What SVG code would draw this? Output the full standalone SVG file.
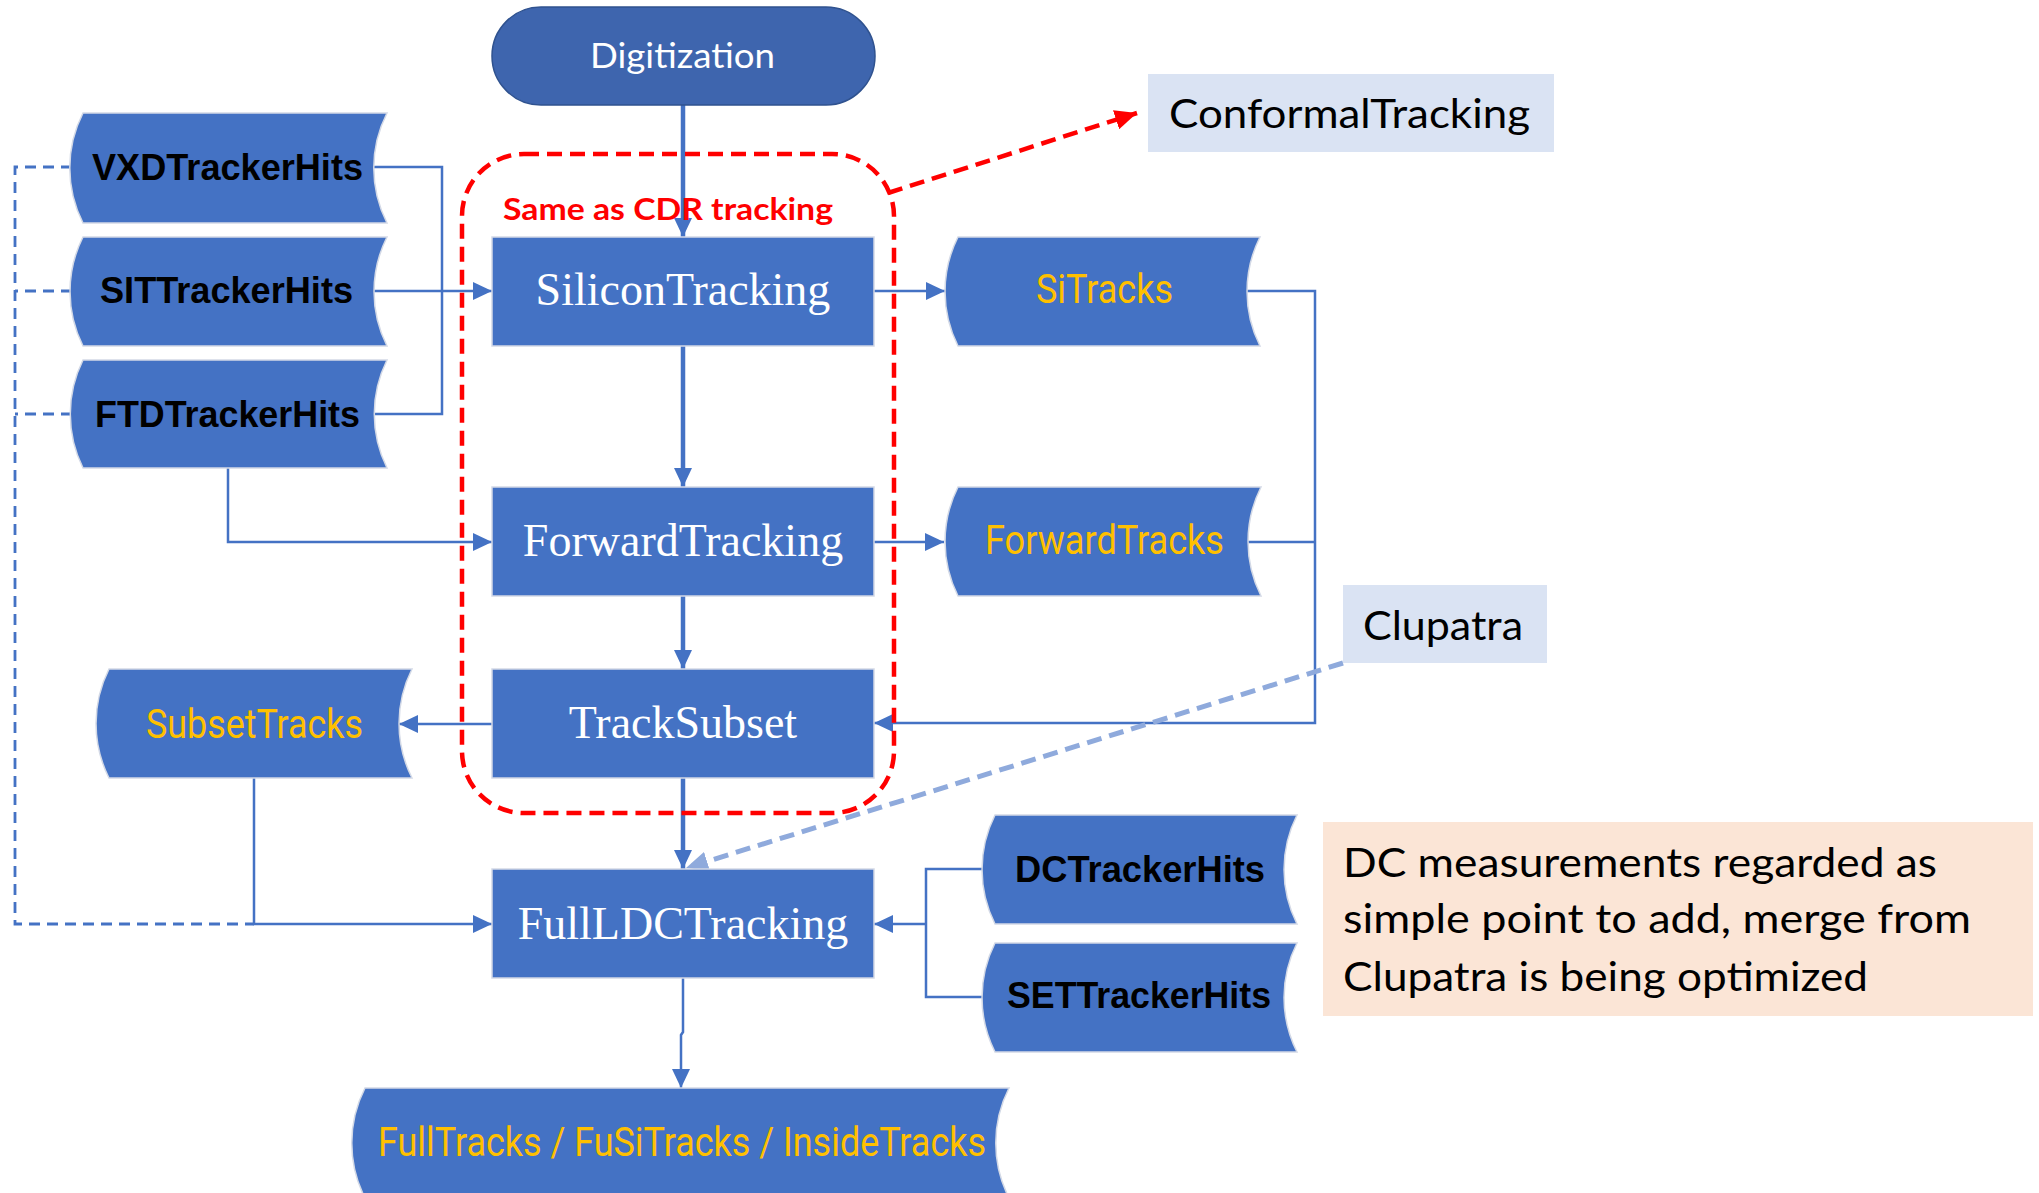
<svg xmlns="http://www.w3.org/2000/svg" width="2039" height="1193" viewBox="0 0 2039 1193">
<defs>
<style>
.node{fill:#4472C4;stroke:#D3D9E6;stroke-width:1.5}
.pill{fill:#3E65AE;stroke:#2F528F;stroke-width:1.5}
.lbl{fill:#DAE3F3}
.note{fill:#FBE5D6}
.ser{font-family:"Liberation Serif","Times New Roman",serif;font-size:46px;fill:#FFFFFF;text-anchor:middle}
.hits{font-family:"Liberation Sans",Arial,sans-serif;font-weight:bold;font-size:36px;fill:#000000}
.trk{font-family:Roboto,"Liberation Sans",sans-serif;font-size:40.5px;fill:#FFC000}
.cal{font-family:Lato,"Liberation Sans",sans-serif;fill:#000000}
.thin{fill:none;stroke:#4472C4;stroke-width:2.5}
.thick{fill:none;stroke:#4472C4;stroke-width:4.5}
.dash{fill:none;stroke:#4472C4;stroke-width:2.8;stroke-dasharray:11 7}
.reddash{fill:none;stroke:#FF0000;stroke-width:4.5;stroke-dasharray:15 8}
.ltdash{fill:none;stroke:#8FAADC;stroke-width:5;stroke-dasharray:15 8}
</style>
<marker id="ab" markerUnits="userSpaceOnUse" markerWidth="19" markerHeight="18" refX="19" refY="9" orient="auto"><path d="M0,0 L19,9 L0,18 Z" fill="#4472C4"/></marker>
<marker id="ar" markerUnits="userSpaceOnUse" markerWidth="22" markerHeight="20" refX="22" refY="10" orient="auto"><path d="M0,0 L22,10 L0,20 Z" fill="#FF0000"/></marker>
<marker id="al" markerUnits="userSpaceOnUse" markerWidth="22" markerHeight="20" refX="22" refY="10" orient="auto"><path d="M0,0 L22,10 L0,20 Z" fill="#8FAADC"/></marker>
</defs>
<rect x="0" y="0" width="2039" height="1193" fill="#FFFFFF"/>

<g id="connectors">
<path class="thin" d="M374,167 H442 V414 H374"/>
<path class="thin" d="M374,291 H492" marker-end="url(#ab)"/>
<path class="thin" d="M228,468 V542 H492" marker-end="url(#ab)"/>
<path class="thin" d="M874,291 H945" marker-end="url(#ab)"/>
<path class="thin" d="M874,542 H944" marker-end="url(#ab)"/>
<path class="thin" d="M1247,291 H1315 V723 H874" marker-end="url(#ab)"/>
<path class="thin" d="M1247,542 H1315"/>
<path class="thin" d="M492,724 H399" marker-end="url(#ab)"/>
<path class="thin" d="M254,778 V924 H492" marker-end="url(#ab)"/>
<path class="thin" d="M983,869 H926 V997 H983"/>
<path class="thin" d="M926,924 H874" marker-end="url(#ab)"/>
<path class="thin" d="M683,978 V1032 L681,1035 V1088" marker-end="url(#ab)"/>
<path class="thick" d="M683,105 V237" marker-end="url(#ab)"/>
<path class="thick" d="M683,346 V487" marker-end="url(#ab)"/>
<path class="thick" d="M683,596 V669" marker-end="url(#ab)"/>
<path class="thick" d="M683,778 V869" marker-end="url(#ab)"/>
<path class="dash" d="M72,167 H15 V924 H254"/>
<path class="dash" d="M72,291 H15"/>
<path class="dash" d="M72,414 H15"/>
<path class="reddash" d="M888,193 L1137,113" marker-end="url(#ar)"/>
<path class="ltdash" d="M1343,663 L686,868" marker-end="url(#al)"/>
</g>

<g id="cdr-group">
<rect class="reddash" x="462" y="154" width="432" height="659" rx="62" ry="62"/>
<text x="503" y="220" font-family="Lato,'Liberation Sans',sans-serif" font-weight="bold" font-size="30" fill="#FF0000" textLength="330" lengthAdjust="spacingAndGlyphs">Same as CDR tracking</text>
</g>

<g id="digitization">
<rect class="pill" x="492" y="7" width="383" height="98" rx="49" ry="49"/>
<text class="cal" x="590" y="68" font-size="35" style="fill:#FFFFFF" textLength="185" lengthAdjust="spacingAndGlyphs">Digitization</text>
</g>

<g id="conformal">
<rect class="lbl" x="1148" y="74" width="406" height="78"/>
<text class="cal" x="1169" y="128" font-size="41" textLength="361" lengthAdjust="spacingAndGlyphs">ConformalTracking</text>
</g>

<g id="vxd">
<path class="node" d="M83,113 H387 A121,121 0 0 0 387,223 H83 A121,121 0 0 1 83,113 Z"/>
<text class="hits" x="92" y="180" textLength="271" lengthAdjust="spacingAndGlyphs">VXDTrackerHits</text>
</g>
<g id="sit">
<path class="node" d="M83,237 H387 A121,121 0 0 0 387,346 H83 A121,121 0 0 1 83,237 Z"/>
<text class="hits" x="100" y="303" textLength="253" lengthAdjust="spacingAndGlyphs">SITTrackerHits</text>
</g>
<g id="ftd">
<path class="node" d="M83,360 H387 A121,121 0 0 0 387,468 H83 A121,121 0 0 1 83,360 Z"/>
<text class="hits" x="95" y="427" textLength="265" lengthAdjust="spacingAndGlyphs">FTDTrackerHits</text>
</g>

<g id="silicon">
<rect class="node" x="492" y="237" width="382" height="109"/>
<text class="ser" x="683" y="305">SiliconTracking</text>
</g>
<g id="forward">
<rect class="node" x="492" y="487" width="382" height="109"/>
<text class="ser" x="683" y="556">ForwardTracking</text>
</g>
<g id="subset">
<rect class="node" x="492" y="669" width="382" height="109"/>
<text class="ser" x="683" y="738">TrackSubset</text>
</g>
<g id="fullldc">
<rect class="node" x="492" y="869" width="382" height="109"/>
<text class="ser" x="683" y="939">FullLDCTracking</text>
</g>

<g id="sitracks">
<path class="node" d="M958,237 H1260 A121,121 0 0 0 1260,346 H958 A121,121 0 0 1 958,237 Z"/>
<text class="trk" x="1036" y="303" textLength="137" lengthAdjust="spacingAndGlyphs">SiTracks</text>
</g>
<g id="forwardtracks">
<path class="node" d="M958,487 H1261 A121,121 0 0 0 1261,596 H958 A121,121 0 0 1 958,487 Z"/>
<text class="trk" x="985" y="554" textLength="239" lengthAdjust="spacingAndGlyphs">ForwardTracks</text>
</g>
<g id="subsettracks">
<path class="node" d="M109,669 H412 A121,121 0 0 0 412,778 H109 A121,121 0 0 1 109,669 Z"/>
<text class="trk" x="146" y="738" textLength="217" lengthAdjust="spacingAndGlyphs">SubsetTracks</text>
</g>
<g id="fulltracks">
<path class="node" d="M365,1088 H1009 A121,121 0 0 0 1009,1198 H365 A121,121 0 0 1 365,1088 Z"/>
<text class="trk" x="378" y="1156" textLength="608" lengthAdjust="spacingAndGlyphs">FullTracks / FuSiTracks / InsideTracks</text>
</g>

<g id="clupatra">
<rect class="lbl" x="1343" y="585" width="204" height="78"/>
<text class="cal" x="1363" y="640" font-size="41" textLength="160" lengthAdjust="spacingAndGlyphs">Clupatra</text>
</g>

<g id="dchits">
<path class="node" d="M995,815 H1297 A121,121 0 0 0 1297,924 H995 A121,121 0 0 1 995,815 Z"/>
<text class="hits" x="1015" y="882" textLength="250" lengthAdjust="spacingAndGlyphs">DCTrackerHits</text>
</g>
<g id="sethits">
<path class="node" d="M995,943 H1297 A121,121 0 0 0 1297,1052 H995 A121,121 0 0 1 995,943 Z"/>
<text class="hits" x="1007" y="1008" textLength="264" lengthAdjust="spacingAndGlyphs">SETTrackerHits</text>
</g>

<g id="note">
<rect class="note" x="1323" y="822" width="710" height="194"/>
<text class="cal" font-size="40">
<tspan x="1343" y="877" textLength="594" lengthAdjust="spacingAndGlyphs">DC measurements regarded as</tspan>
<tspan x="1343" y="933" textLength="628" lengthAdjust="spacingAndGlyphs">simple point to add, merge from</tspan>
<tspan x="1343" y="991" textLength="525" lengthAdjust="spacingAndGlyphs">Clupatra is being optimized</tspan>
</text>
</g>
</svg>
